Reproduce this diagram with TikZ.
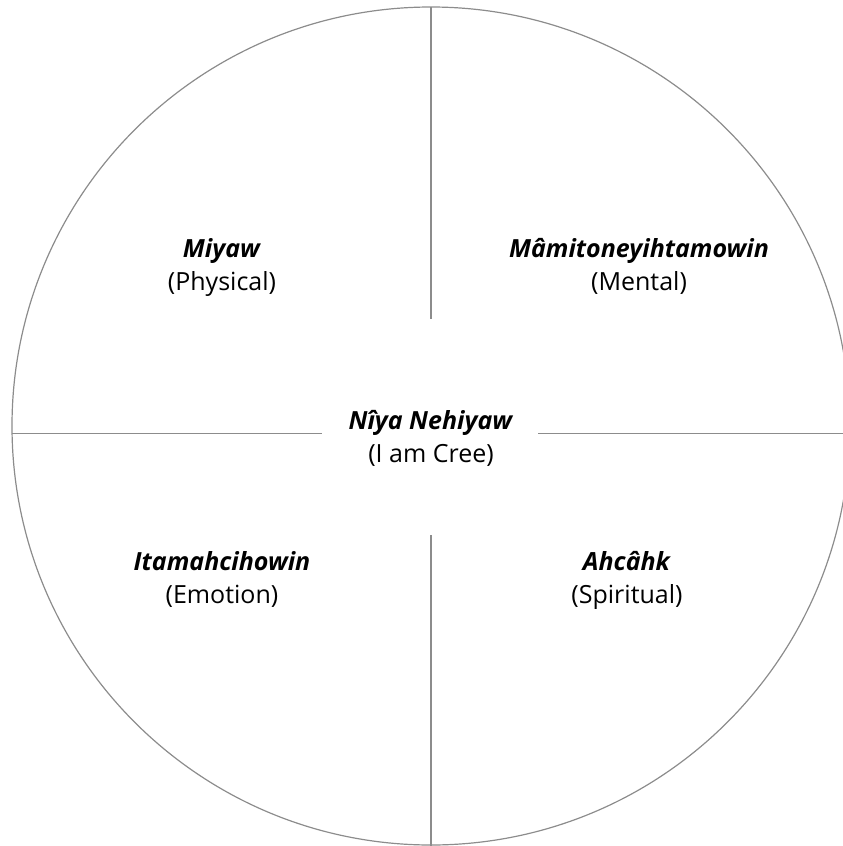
\documentclass[tikz,border=0pt]{standalone}
\usepackage{fontspec}
\setmainfont{Open Sans}
\begin{document}
\begin{tikzpicture}[x=1pt,y=-1pt,
  rim/.style={draw=black!45, line width=1.2pt},
  axis/.style={draw=black!45, line width=1.2pt},
  label/.style={align=center, inner sep=0pt, font=\fontsize{25}{33}\selectfont, text=black},
]
\useasboundingbox (0,0) rectangle (843,846);
% outer circle
\coordinate (c) at (431,426);
\draw[rim] (c) circle[radius=419];
% ends of the four spokes on the rim and near the centre
\coordinate (top) at (431,7);
\coordinate (topin) at (431,319);
\coordinate (bot) at (431,846);
\coordinate (botin) at (431,535);
\coordinate (left) at (12.2,433.5);
\coordinate (leftin) at (322,433.5);
\coordinate (right) at (850,433.5);
\coordinate (rightin) at (538,433.5);
\draw[axis] (top) -- (topin);
\draw[axis] (botin) -- (bot);
\draw[axis] (left) -- (leftin);
\draw[axis] (rightin) -- (right);
% labels (anchored on the baseline of the second line)
\node[label, anchor=base] (centre) at (431,462) {\textbf{\textit{Nîya Nehiyaw}}\\(I am Cree)};
\node[label, anchor=base] (physical) at (222,290) {\textbf{\textit{Miyaw}}\\(Physical)};
\node[label, anchor=base] (mental) at (639,290) {\textbf{\textit{Mâmitoneyihtamowin}}\\(Mental)};
\node[label, anchor=base] (emotion) at (222,603) {\textbf{\textit{Itamahcihowin}}\\(Emotion)};
\node[label, anchor=base] (spiritual) at (627,603) {\textbf{\textit{Ahcâhk}}\\(Spiritual)};
\end{tikzpicture}
\end{document}
